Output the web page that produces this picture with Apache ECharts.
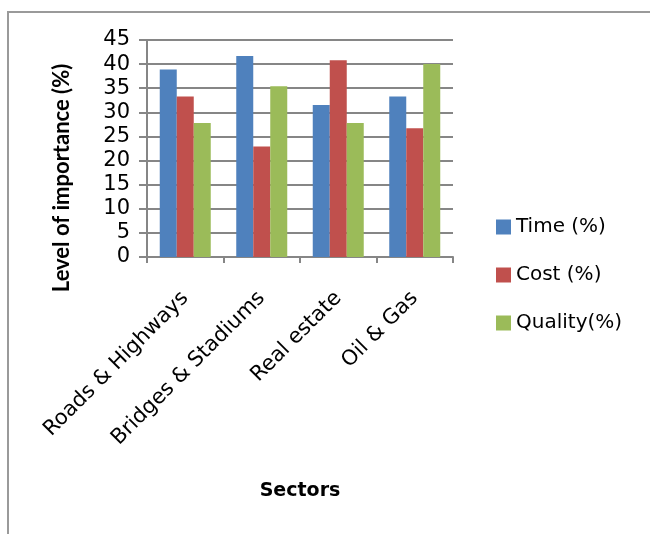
<!DOCTYPE html>
<html>
<head>
<meta charset="utf-8">
<script src="https://cdn.jsdelivr.net/npm/echarts@6/dist/echarts.min.js"></script>
<style>html,body{margin:0;padding:0;background:#fff;}#c{width:650px;height:534px;}</style>
</head>
<body>
<div id="c"></div>
<script>
const categories = ['Roads & Highways', 'Bridges & Stadiums', 'Real estate', 'Oil & Gas'];
const timeValues = [38.9, 41.7, 31.5, 33.3];
const costValues = [33.3, 22.9, 40.8, 26.7];
const qualityValues = [27.8, 35.4, 27.8, 40.0];
const seriesNames = ['Time (%)', 'Cost (%)', 'Quality(%)'];
const yTicks = { min: 0, max: 45, interval: 5 };
const yTitle = 'Level of importance (%)';
const xTitle = 'Sectors';

const FONT = '"DejaVu Sans", sans-serif';
const TFONT = 'Lato, "DejaVu Sans", sans-serif';
const colors = ['#4F81BD', '#C0504D', '#9BBB59'];
const chart = echarts.init(document.getElementById('c'), null, { renderer: 'canvas' });
const mk = (name, data, i) => ({
  name, type: 'bar', data, barWidth: 17, barGap: '0%',
  itemStyle: { color: colors[i] }
});
chart.setOption({
  animation: false,
  backgroundColor: '#fff',
  grid: { left: 147, right: 197, top: 40, bottom: 277, containLabel: false },
  legend: {
    orient: 'vertical', left: 496, top: 217, padding: 0, itemWidth: 15, itemHeight: 15, itemGap: 28,
    icon: 'rect',
    textStyle: { fontFamily: FONT, fontSize: 20, color: '#000' },
    data: seriesNames
  },
  xAxis: {
    type: 'category', data: categories,
    axisLine: { lineStyle: { color: '#868686', width: 2 } },
    axisTick: { show: true, length: 6, lineStyle: { color: '#868686', width: 2 } },
    axisLabel: { rotate: 45, margin: 38, fontFamily: FONT, fontSize: 21, color: '#000', interval: 0 }
  },
  yAxis: {
    type: 'value', min: yTicks.min, max: yTicks.max, interval: yTicks.interval,
    axisLine: { show: true, lineStyle: { color: '#868686', width: 2 } },
    axisTick: { show: true, length: 8, lineStyle: { color: '#868686', width: 2 } },
    splitLine: { lineStyle: { color: '#868686', width: 2 } },
    axisLabel: { margin: 17, fontFamily: FONT, fontSize: 21, color: '#000' }
  },
  series: [mk(seriesNames[0], timeValues, 0), mk(seriesNames[1], costValues, 1), mk(seriesNames[2], qualityValues, 2)],
  graphic: [
    { type: 'rect', shape: { x: 8, y: 12, width: 700, height: 600 }, style: { fill: 'none', stroke: '#9a9a9a', lineWidth: 2 }, silent: true, z: -1 },
    { type: 'text', x: 62, y: 178, rotation: Math.PI / 2,
      style: { text: yTitle, fontFamily: TFONT, fontSize: 22, fontWeight: 'bold', fill: '#000', align: 'center', verticalAlign: 'middle' } },
    { type: 'text', x: 300, y: 491,
      style: { text: xTitle, fontFamily: FONT, fontSize: 19, fontWeight: 'bold', fill: '#000', align: 'center', verticalAlign: 'middle' } }
  ]
});
</script>
</body>
</html>
